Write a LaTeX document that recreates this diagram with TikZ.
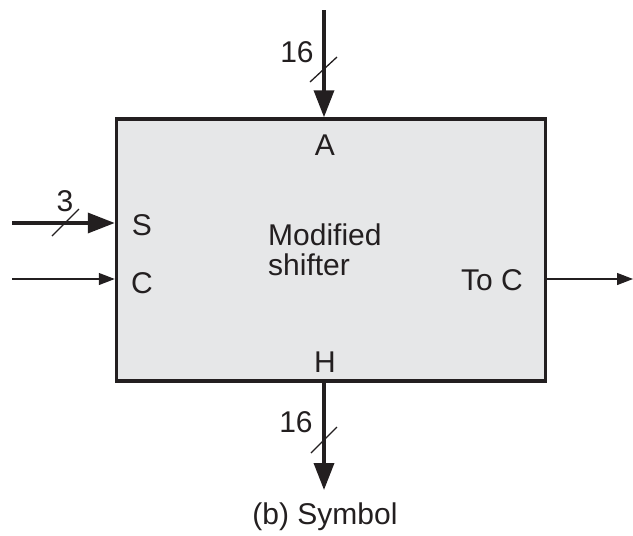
\documentclass[tikz,border=0pt]{standalone}
\usepackage{fontspec}
\setmainfont{Liberation Sans}
\usetikzlibrary{arrows.meta, positioning, calc}
\definecolor{shifterfill}{HTML}{E6E7E8}
\definecolor{shifterdark}{HTML}{231F20}
\tikzset{
  unit/.style={draw=shifterdark, line width=3.5pt, fill=shifterfill,
               minimum width=429pt, minimum height=262pt, inner sep=0pt},
  pinlbl/.style={font=\fontsize{30}{30}\selectfont, text=shifterdark, inner sep=0pt},
  bus/.style={-{Triangle[length=27pt, width=20pt]}, line width=3.5pt, draw=shifterdark},
  wire/.style={-{Triangle[length=16pt, width=12pt]}, line width=1.3pt, draw=shifterdark},
  busmark/.style={line width=1.3pt, draw=shifterdark},
}

\begin{document}
\begin{tikzpicture}[x=1pt, y=-1pt]
  \useasboundingbox (0,0) rectangle (633,536);
  \node[unit] (shifter) at (331,250) {};

  % pin labels
  \node[pinlbl] (pA) at (325,145) {A};
  \node[pinlbl] (pS) at (142,225) {S};
  \node[pinlbl] (pC) at (142,283) {C};
  \node[pinlbl] (pToC) at (492,280) {To C};
  \node[pinlbl] (pH) at (325,362) {H};
  \node[pinlbl, align=left, anchor=west] (name) at (268,250) {Modified\\ shifter};

  % buses and wires
  \coordinate (Ain) at (324,10);
  \coordinate (Sin) at (12,223);
  \coordinate (Cin) at (12,279);
  \coordinate (Cout) at (633,279);
  \coordinate (Hout) at (324,490);
  \draw[bus] (Ain) -- (Ain |- shifter.north);
  \draw[bus] (Sin) -- (Sin -| shifter.west);
  \draw[wire] (Cin) -- (Cin -| shifter.west);
  \draw[wire] (Cout -| shifter.east) -- (Cout);
  \draw[bus] (Hout |- shifter.south) -- (Hout);

  % bus widths
  \draw[busmark] (310,82) -- (337,57);
  \draw[busmark] (52,236) -- (79,209);
  \draw[busmark] (311,453) -- (337,427);
  \node[pinlbl] (wA) at (297,52) {16};
  \node[pinlbl] (wS) at (65,201) {3};
  \node[pinlbl] (wH) at (296,422) {16};

  \node[pinlbl] (caption) at (325,517) {(b) Symbol};
\end{tikzpicture}
\end{document}
